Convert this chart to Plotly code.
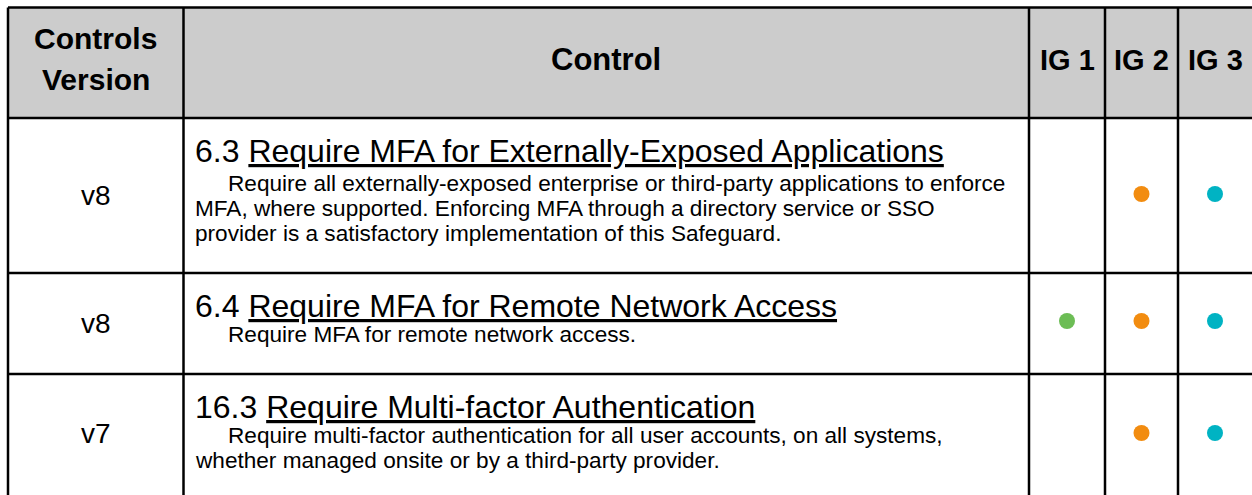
import plotly.graph_objects as go

# ---------------- data ----------------
header_version = ["Controls", "Version"]
header_control = "Control"
header_igs = ["IG 1", "IG 2", "IG 3"]

versions = ["v8", "v8", "v7"]
control_ids = ["6.3", "6.4", "16.3"]
control_titles = [
    "Require MFA for Externally-Exposed Applications",
    "Require MFA for Remote Network Access",
    "Require Multi-factor Authentication",
]
descriptions = [
    ["Require all externally-exposed enterprise or third-party applications to enforce",
     "MFA, where supported. Enforcing MFA through a directory service or SSO",
     "provider is a satisfactory implementation of this Safeguard."],
    ["Require MFA for remote network access."],
    ["Require multi-factor authentication for all user accounts, on all systems,",
     "whether managed onsite or by a third-party provider."],
]
ig1 = [False, True, False]
ig2 = [True, True, True]
ig3 = [True, True, True]
ig_colors = ["#6cbd55", "#f28c10", "#00b3c3"]

# ---------------- layout geometry (page pixels) ----------------
W, H = 1252, 495
col_x = [8, 183.5, 1029, 1105, 1178, 1256]
row_y = [7.5, 118, 273, 374, 498]
FONT = "Liberation Sans, Arial, sans-serif"

fig = go.Figure()
shapes = []
shapes.append(dict(type="rect", x0=col_x[0], x1=col_x[-1], y0=row_y[0], y1=row_y[1],
                   fillcolor="#cccccc", line=dict(width=0), layer="below"))
for y in row_y:
    shapes.append(dict(type="line", x0=col_x[0], x1=col_x[-1], y0=y, y1=y,
                       line=dict(color="black", width=2.5)))
for x in col_x:
    shapes.append(dict(type="line", x0=x, x1=x, y0=row_y[0], y1=row_y[-1],
                       line=dict(color="black", width=2.5)))

ann = []
vcx = (col_x[0] + col_x[1]) / 2
hc = (row_y[0] + row_y[1]) / 2 - 3
for i, t in enumerate(header_version):
    ann.append(dict(x=vcx, y=hc - 21 + 41 * i, text="<b>%s</b>" % t, showarrow=False,
                    font=dict(size=30, color="black", family=FONT), xanchor="center", yanchor="middle"))
ann.append(dict(x=(col_x[1] + col_x[2]) / 2, y=hc, text="<b>%s</b>" % header_control, showarrow=False,
                font=dict(size=31, color="black", family=FONT), xanchor="center", yanchor="middle"))
ig_cx = [(col_x[2 + k] + min(col_x[3 + k], 1252)) / 2 for k in range(3)]
for k, t in enumerate(header_igs):
    ann.append(dict(x=ig_cx[k], y=hc, text="<b>%s</b>" % t, showarrow=False,
                    font=dict(size=29, color="black", family=FONT), xanchor="center", yanchor="middle"))

for r in range(len(versions)):
    top = row_y[r + 1]
    bot = row_y[r + 2] if r < len(versions) - 1 else 492
    cy = (top + bot) / 2
    ann.append(dict(x=vcx, y=cy, text=versions[r], showarrow=False,
                    font=dict(size=28, color="black", family=FONT), xanchor="center", yanchor="middle"))
    ty = top + 33
    ann.append(dict(x=193, y=ty, text="%s <u>%s</u>" % (control_ids[r], control_titles[r]),
                    showarrow=False, font=dict(size=32, color="black", family=FONT),
                    xanchor="left", yanchor="middle"))
    gap = 32 if r == 0 else 28
    for j, line in enumerate(descriptions[r]):
        ann.append(dict(x=226 if j == 0 else 193, y=ty + gap + 25 * j, text=line, showarrow=False,
                        font=dict(size=22.6, color="black", family=FONT),
                        xanchor="left", yanchor="middle"))

row_cy = [194, 321, 433]
for k, flags in enumerate([ig1, ig2, ig3]):
    xs = [ig_cx[k] for r, f in enumerate(flags) if f]
    ys = [row_cy[r] for r, f in enumerate(flags) if f]
    fig.add_trace(go.Scatter(x=xs, y=ys, mode="markers",
                             marker=dict(size=16, color=ig_colors[k], line=dict(width=0)),
                             hoverinfo="skip", showlegend=False))

fig.update_layout(
    width=W, height=H, margin=dict(l=0, r=0, t=0, b=0),
    paper_bgcolor="white", plot_bgcolor="white",
    xaxis=dict(range=[0, W], visible=False, fixedrange=True),
    yaxis=dict(range=[H, 0], visible=False, fixedrange=True),
    shapes=shapes, annotations=ann, showlegend=False,
)
fig.write_html("out.html", config={"displayModeBar": False},
               post_script="document.body.style.margin='0';document.body.style.overflow='hidden';")
